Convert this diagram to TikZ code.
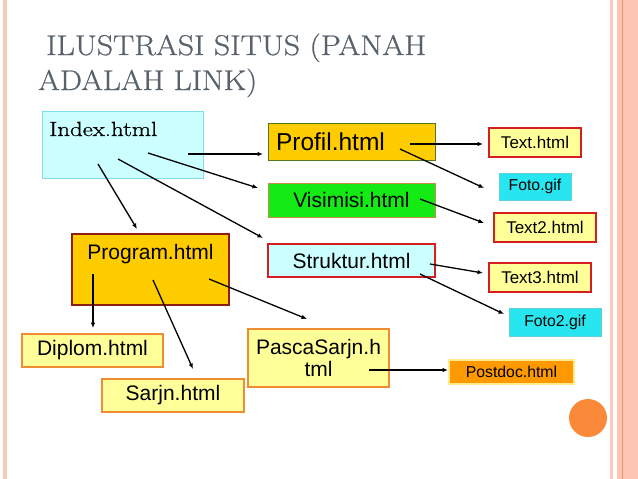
\documentclass[tikz,border=0pt]{standalone}
\usepackage{fontspec}
\newfontfamily\arial{Liberation Sans}
\newfontfamily\titleserif[FakeBold=0.8]{Latin Modern Roman}
\usetikzlibrary{arrows.meta}
\definecolor{titlegray}{RGB}{88,98,108}
\definecolor{lpink}{RGB}{248,200,185}
\definecolor{rpale}{RGB}{246,204,190}
\definecolor{rpink}{RGB}{252,198,180}
\definecolor{rline}{RGB}{232,150,112}
\definecolor{lcyan}{RGB}{204,255,255}
\definecolor{cyanedge}{RGB}{128,222,232}
\definecolor{gold}{RGB}{255,204,0}
\definecolor{darkgreen}{RGB}{80,120,30}
\definecolor{brightgreen}{RGB}{20,235,20}
\definecolor{brownedge}{RGB}{200,140,70}
\definecolor{redge}{RGB}{215,30,30}
\definecolor{darkred}{RGB}{140,30,20}
\definecolor{lyellow}{RGB}{255,255,153}
\definecolor{oedge}{RGB}{240,140,50}
\definecolor{fcyan}{RGB}{40,230,240}
\definecolor{fcyanedge}{RGB}{100,205,220}
\definecolor{orangefill}{RGB}{255,153,0}
\definecolor{yedge}{RGB}{255,235,140}
\definecolor{dot}{RGB}{250,138,58}
\begin{document}
\begin{tikzpicture}[x=1pt,y=-1pt,
  box/.style={rectangle, inner sep=0pt, line width=1.5pt, font=\arial\fontsize{21}{24}\selectfont, text=black},
  small/.style={box, font=\arial\fontsize{17}{20}\selectfont},
  tiny/.style={box, font=\arial\fontsize{15.8}{18}\selectfont},
  arr/.style={draw=black, line width=1.3pt, -{Latex[length=5.5pt,width=4.5pt]}}]
\useasboundingbox (0,0) rectangle (638,479);
% page decorations
\fill[lpink] (3,0) rectangle (7,479);
\fill[rpale] (610,0) rectangle (613,479);
\fill[rpink] (617,0) rectangle (638,479);
\draw[rline, line width=1pt] (622.5,0) -- (622.5,479);
\fill[dot] (588,418) circle (19);
% title
\node[anchor=base west, inner sep=0pt, text=titlegray, font=\titleserif\fontsize{28.5}{34}\selectfont] (t1) at (46,55) {\resizebox{380pt}{\height}{ILUSTRASI SITUS (PANAH}};
\node[anchor=base west, inner sep=0pt, text=titlegray, font=\titleserif\fontsize{28.5}{34}\selectfont] (t2) at (38,90) {\resizebox{219pt}{\height}{ADALAH LINK)}};
% boxes
\node[box, fill=lcyan, draw=cyanedge, line width=1pt, minimum width=161, minimum height=67] (idx) at (122.5,144.5) {};
\node[anchor=base west, inner sep=0pt, font=\titleserif\fontsize{20.5}{24}\selectfont] (idxt) at (49,136) {\resizebox{108pt}{\height}{Index.html}};
\node[box, fill=gold, draw=darkgreen, line width=1pt, minimum height=37, text width=151, inner xsep=8pt, align=left, font=\arial\fontsize{24.5}{28}\selectfont] (prof) at (351.5,141.5) {Profil.html};
\node[box, fill=brightgreen, draw=brownedge, line width=1pt, minimum width=167, minimum height=34] (vis) at (351.5,200) {Visimisi.html};
\node[box, fill=lcyan, draw=redge, minimum width=167, minimum height=33] (str) at (351.5,260.5) {Struktur.html};
\node[box, fill=gold, draw=darkred, minimum width=157, minimum height=71] (prog) at (150.5,269.5) {};
\node[anchor=base, inner sep=0pt, font=\arial\fontsize{21}{24}\selectfont] (progt) at (150.5,259) {Program.html};
\node[box, fill=lyellow, draw=oedge, minimum width=141, minimum height=33] (dip) at (92.5,350.5) {Diplom.html};
\node[box, fill=lyellow, draw=oedge, minimum width=142, minimum height=33] (sar) at (173,395.5) {Sarjn.html};
\node[box, fill=lyellow, draw=oedge, minimum width=141, minimum height=58, align=center, font=\arial\fontsize{21}{22}\selectfont] (pasca) at (318.5,358) {PascaSarjn.h\\tml};
\node[small, fill=lyellow, draw=redge, line width=2pt, minimum width=92, minimum height=29] (txt) at (535,142.5) {Text.html};
\node[tiny, fill=fcyan, draw=fcyanedge, line width=1pt, minimum width=72, minimum height=27] (foto) at (535,186.5) {Foto.gif};
\node[small, fill=lyellow, draw=redge, line width=2pt, minimum width=102, minimum height=29] (txt2) at (545,227.5) {Text2.html};
\node[small, fill=lyellow, draw=redge, line width=2pt, minimum width=102, minimum height=29] (txt3) at (540,277.5) {Text3.html};
\node[tiny, fill=fcyan, draw=fcyanedge, line width=1pt, minimum width=92, minimum height=28] (foto2) at (555,322) {Foto2.gif};
\node[tiny, fill=orangefill, draw=yedge, line width=1.5pt, minimum width=125, minimum height=24] (post) at (511.5,372) {Postdoc.html};
% connector end points
\coordinate (a1s) at (188,154);  \coordinate (a1e) at (263,154);
\coordinate (a2s) at (148,153);  \coordinate (a2e) at (258,188);
\coordinate (a3s) at (118,159);  \coordinate (a3e) at (263,238);
\coordinate (a4s) at (98,164);   \coordinate (a4e) at (137,229);
\coordinate (a5s) at (410,144);  \coordinate (a5e) at (483,144);
\coordinate (a6s) at (400,149);  \coordinate (a6e) at (484,188);
\coordinate (a7s) at (420,199);  \coordinate (a7e) at (484,223);
\coordinate (a8s) at (430,264);  \coordinate (a8e) at (483,273);
\coordinate (a9s) at (420,274);  \coordinate (a9e) at (504,314);
\coordinate (a10s) at (93,274);  \coordinate (a10e) at (93,328);
\coordinate (a11s) at (153,280); \coordinate (a11e) at (193,369);
\coordinate (a12s) at (209,279); \coordinate (a12e) at (307,319);
\coordinate (a13s) at (369,370); \coordinate (a13e) at (448,370);
% connectors
\draw[arr] (a1s) -- (a1e);
\draw[arr] (a2s) -- (a2e);
\draw[arr] (a3s) -- (a3e);
\draw[arr] (a4s) -- (a4e);
\draw[arr] (a5s) -- (a5e);
\draw[arr] (a6s) -- (a6e);
\draw[arr] (a7s) -- (a7e);
\draw[arr] (a8s) -- (a8e);
\draw[arr] (a9s) -- (a9e);
\draw[arr] (a10s) -- (a10e);
\draw[arr] (a11s) -- (a11e);
\draw[arr] (a12s) -- (a12e);
\draw[arr] (a13s) -- (a13e);
\end{tikzpicture}
\end{document}
